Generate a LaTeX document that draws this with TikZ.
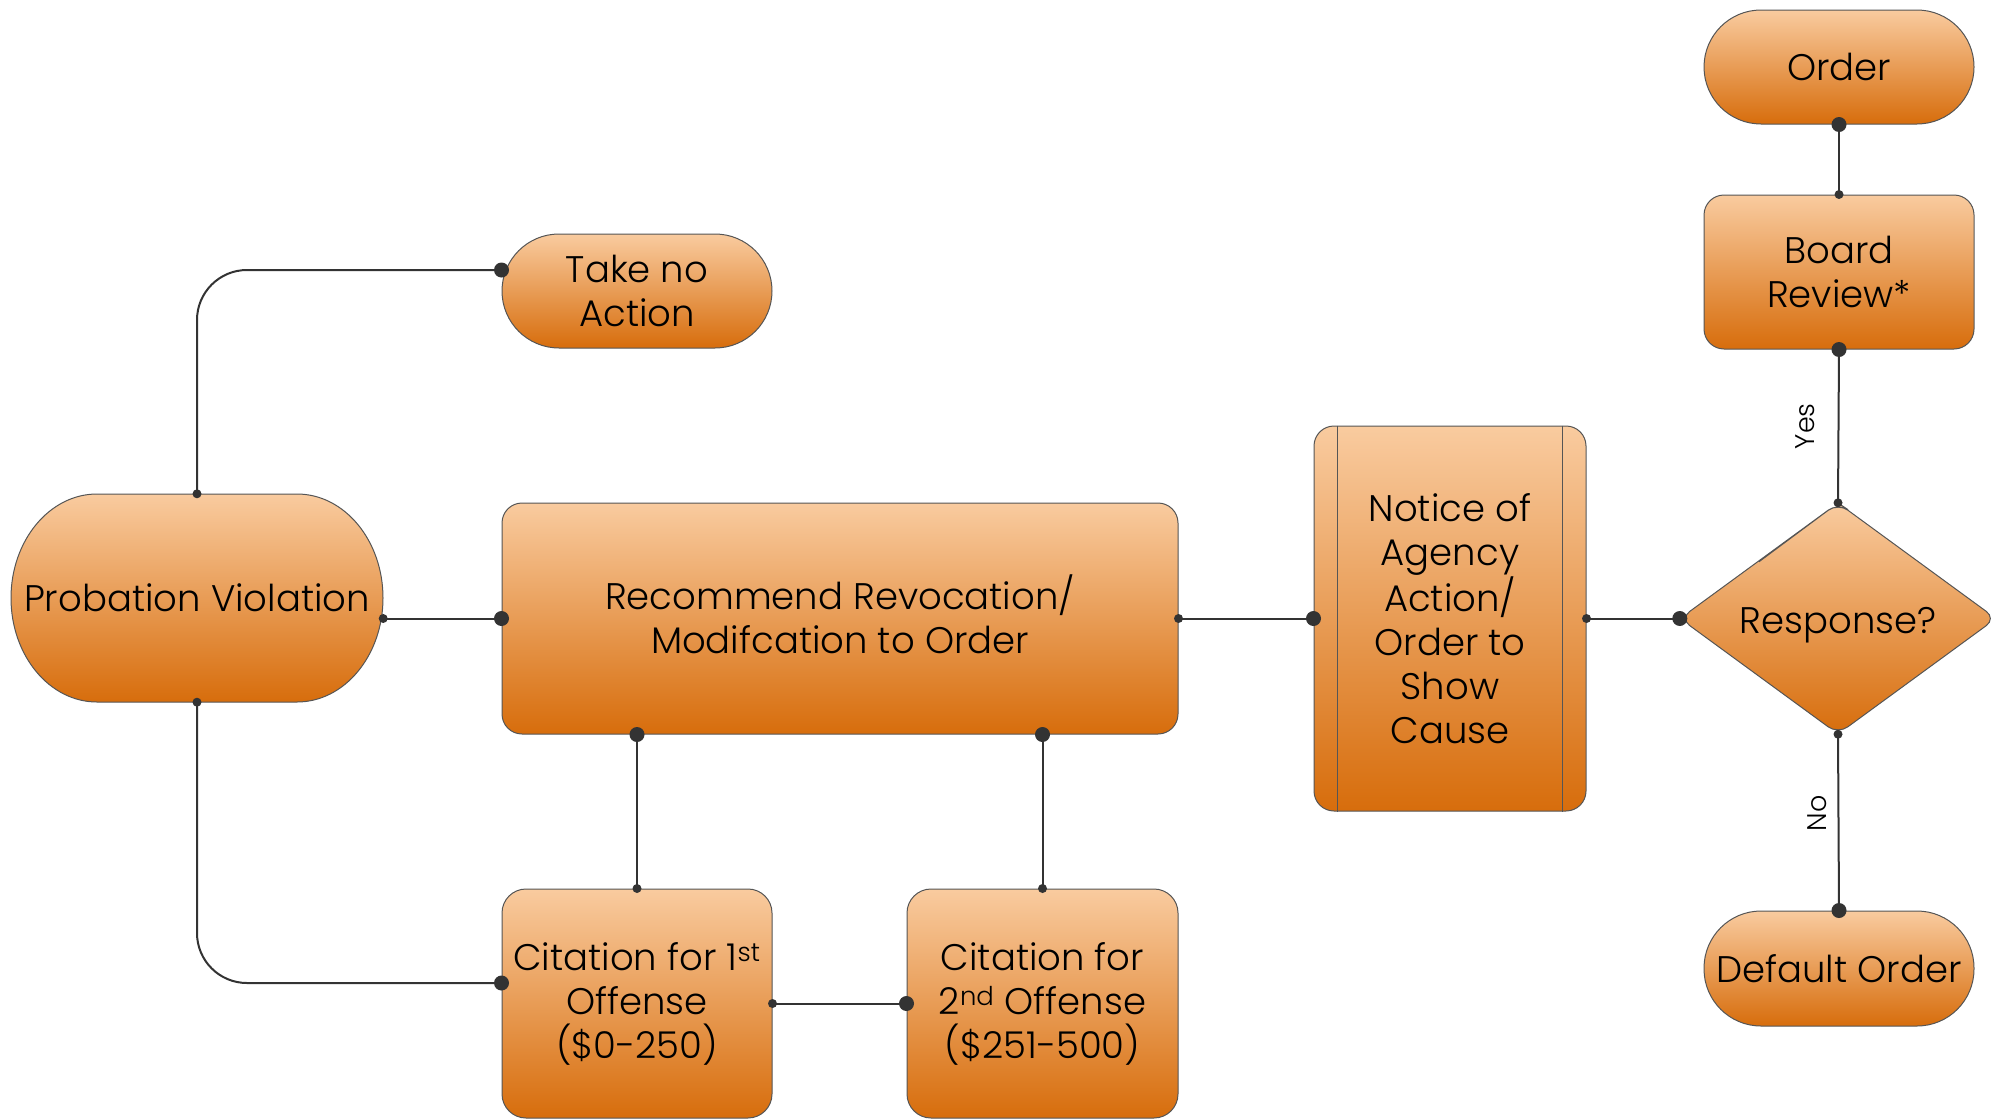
\documentclass[tikz,border=0pt]{standalone}
\usepackage{fontspec}
\setmainfont{Poppins Light}
\usetikzlibrary{calc}
\definecolor{cTop}{HTML}{F9CB9F}
\definecolor{cBot}{HTML}{D76D0C}
\definecolor{lc}{HTML}{333333}
\definecolor{bc}{HTML}{555555}
\tikzset{
  box/.style={draw=bc, line width=1pt, top color=cTop, bottom color=cBot},
  lbl/.style={inner sep=0pt, align=center, font=\fontsize{37}{44}\selectfont, text=black},
  proc/.style={box, lbl, rounded corners=20pt},
  term/.style={box, lbl, rounded corners=57pt},
  conn/.style={draw=lc, line width=2pt},
  yn/.style={font=\fontsize{27}{30}\selectfont, rotate=90, inner sep=0pt},
}
\begin{document}
\begin{tikzpicture}[x=1pt,y=-1pt]
\useasboundingbox (0,0) rectangle (2001,1119);
% shapes
\node[term, minimum width=270pt, minimum height=114pt] (order) at (1839,67) {Order};
\node[proc, minimum width=270pt, minimum height=154pt] (board) at (1839,272) {Board\\Review*};
\node[term, minimum width=270pt, minimum height=114pt] (take) at (637,291) {Take no\\Action};
\draw[box] (97,494) -- (297,494)
  arc[start angle=90, end angle=-90, x radius=86pt, y radius=104pt]
  -- (97,702)
  arc[start angle=270, end angle=90, x radius=86pt, y radius=104pt] -- cycle;
\node[lbl, minimum width=372pt, minimum height=208pt] (pv) at (197,598) {Probation Violation};
\node[proc, minimum width=676pt, minimum height=231pt, text depth=9pt] (rec) at (840,618.5) {Recommend Revocation/\\Modifcation to Order};
\node[proc, minimum width=272pt, minimum height=385pt] (notice) at (1450,618.5) {Notice of\\Agency\\Action/\\Order to\\Show\\Cause};
\draw[bc, line width=1pt] ([xshift=24pt]notice.north west) -- ([xshift=24pt]notice.south west);
\draw[bc, line width=1pt] ([xshift=-24pt]notice.north east) -- ([xshift=-24pt]notice.south east);
\draw[box, rounded corners=12pt] (1759,561.75) -- (1838,503) -- (1996,618.5) -- (1838,734) -- (1680,618.5) -- (1838,503) -- (1839.5,504);
\node[lbl, minimum width=316pt, minimum height=231pt, text height=38pt, text depth=9pt] (resp) at (1838,618.5) {Response?};
\node[term, minimum width=270pt, minimum height=115pt] (def) at (1839,968.5) {Default Order};
\node[proc, rounded corners=24pt, minimum width=270pt, minimum height=229pt] (cit1) at (637,1003.5) {Citation for 1\textsuperscript{st}\\Offense\\(\$0-250)};
\node[proc, rounded corners=24pt, minimum width=271pt, minimum height=229pt] (cit2) at (1042.5,1003.5) {Citation for\\2\textsuperscript{nd} Offense\\(\$251-500)};
% connectors
\draw[conn, rounded corners=50pt] (pv.north) |- ([yshift=21pt]take.west);
\draw[conn, rounded corners=50pt] (pv.south) |- ([yshift=20.5pt]cit1.west);
\draw[conn] (pv.east|-rec.west) -- (rec.west);
\draw[conn] (cit1.north|-rec.south) -- (cit1.north);
\draw[conn] (cit2.north|-rec.south) -- (cit2.north);
\draw[conn] (cit1.east) -- (cit2.west);
\draw[conn] (rec.east) -- (notice.west);
\draw[conn] (notice.east) -- (resp.west);
\draw[conn] (resp.north) -- (board.south);
\draw[conn] (board.north) -- (order.south);
\draw[conn] (resp.south) -- (def.north);
\node[yn] (yes) at ($(resp.north)!0.5!(board.south)+(-33,0)$) {Yes};
\node[yn] (no) at ($(resp.south)!0.45!(def.north)+(-21,0)$) {No};
% dots
\foreach \p in {pv.north, pv.south, cit1.north, cit2.north, cit1.east, rec.east, notice.east, resp.north, board.north, resp.south}
  \fill[lc] (\p) circle[radius=4.5pt];
\fill[lc] (pv.east|-rec.west) circle[radius=4.5pt];
\foreach \p in {rec.west, cit2.west, notice.west, resp.west, board.south, order.south, def.north}
  \fill[lc] (\p) circle[radius=7.5pt];
\fill[lc] ([yshift=21pt]take.west) circle[radius=7.5pt];
\fill[lc] ([yshift=20.5pt]cit1.west) circle[radius=7.5pt];
\fill[lc] (cit1.north|-rec.south) circle[radius=7.5pt];
\fill[lc] (cit2.north|-rec.south) circle[radius=7.5pt];
\end{tikzpicture}
\end{document}
